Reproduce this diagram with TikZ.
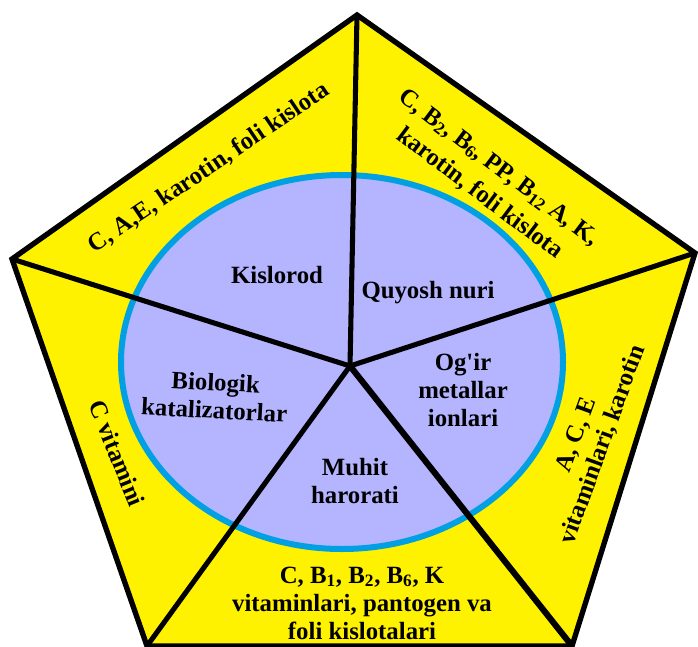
\documentclass[tikz,border=0pt]{standalone}
\usepackage{fontspec}
\setmainfont{Liberation Serif}
\definecolor{penyellow}{RGB}{255,242,0}
\definecolor{lav}{RGB}{180,180,255}
\definecolor{ringblue}{RGB}{0,160,227}
\begin{document}
\begin{tikzpicture}[x=0.75pt,y=-0.75pt,
  lbl/.style={font=\bfseries\fontsize{18.6}{21}\selectfont, align=center, inner sep=0pt, text=black},
  spoke/.style={line width=3.8pt, draw=black},
  penta/.style={fill=penyellow},
  border/.style={line width=4pt, draw=black, line join=miter},
  ring/.style={fill=lav, draw=ringblue, line width=4.5pt}
  ]
\useasboundingbox (0,0) rectangle (698,646);
\coordinate (vt) at (357,15);
\coordinate (vr) at (695,253);
\coordinate (vbr) at (572,646);
\coordinate (vbl) at (147,646);
\coordinate (vl) at (12,259);
\coordinate (c) at (350,366);
\coordinate (ec) at (342,362);
\fill[penta] (vt) -- (vr) -- (vbr) -- (vbl) -- (vl) -- cycle;
\draw[ring] (ec) ellipse [x radius=221, y radius=187];
\draw[spoke] (c) -- (vt);
\draw[spoke] (c) -- (vr);
\draw[spoke, line width=4.6pt] (c) -- (vbr);
\draw[spoke] (c) -- (vbl);
\draw[spoke] (c) -- (vl);
\draw[border] (vt) -- (vr) -- (vbr) -- (vbl) -- (vl) -- cycle;
% outer labels
\node[lbl, rotate=34] (tUL) at (209,168) {C, A,E, karotin, foli kislota};
\node[lbl, rotate=-37] (tUR) at (489,181) {C, B\textsubscript{2}, B\textsubscript{6}, PP, B\textsubscript{12} A, K,\\[3pt]karotin, foli kislota};
\node[lbl, rotate=70] (tR) at (590,440) {A, C, E\\vitaminlari, karotin};
\node[lbl, rotate=-68] (tL) at (117,453) {C vitamini};
\node[lbl] (tB) at (362,603) {C, B\textsubscript{1}, B\textsubscript{2}, B\textsubscript{6}, K\\vitaminlari, pantogen va\\foli kislotalari};
% inner labels
\node[lbl] (kis) at (277,275) {Kislorod};
\node[lbl] (quy) at (428,293) {Quyosh nuri};
\node[lbl] (ogir) at (463,390) {Og\textquotesingle ir\\metallar\\ionlari};
\node[lbl, rotate=-3] (bio) at (215,396) {Biologik\\katalizatorlar};
\node[lbl] (muh) at (355,481) {Muhit\\harorati};
\end{tikzpicture}
\end{document}
